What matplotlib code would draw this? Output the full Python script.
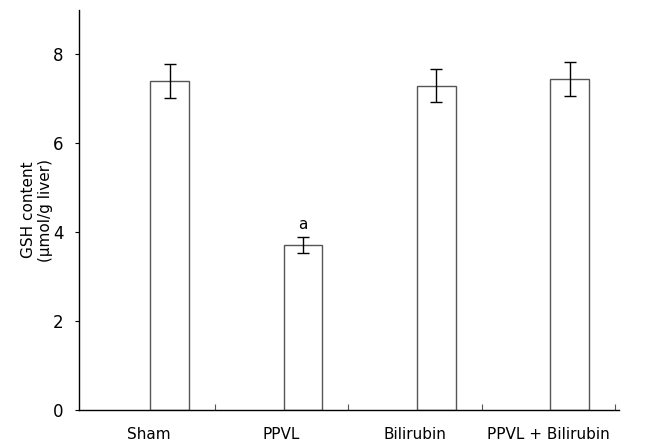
import matplotlib
matplotlib.use("Agg")
import matplotlib.pyplot as plt
from matplotlib.ticker import FixedLocator, NullFormatter

categories = ["Sham", "PPVL", "Bilirubin", "PPVL + Bilirubin"]
values = [7.41, 3.71, 7.30, 7.45]
errors = [0.38, 0.18, 0.38, 0.39]
annotations = ["", "a", "", ""]
yticks = [0, 2, 4, 6, 8]

plt.rcParams['font.family'] = ['DejaVu Sans']
fig = plt.figure(figsize=(6.46, 4.48), dpi=100)
ax = fig.add_axes([79/646, 38/448, 540/646, 400/448])

x = list(range(len(categories)))
ax.bar(x, values, width=0.29, color="white", edgecolor="#555555", linewidth=1.0, zorder=2)
ax.errorbar(x, values, yerr=errors, fmt="none", ecolor="black", elinewidth=1.0,
            capsize=4.5, capthick=1.0, zorder=3)
for xi, v, e, t in zip(x, values, errors, annotations):
    if t:
        ax.text(xi, v + e + 0.12, t, ha="center", va="bottom", fontsize=11)

ax.set_xlim(-0.68, 3.37)
ax.set_ylim(0, 9)
ax.set_yticks(yticks)
ax.tick_params(axis="y", direction="out", length=3, width=0.8, labelsize=12, pad=8)

# category labels (offset from bars as in reference)
ax.xaxis.set_major_locator(FixedLocator([i - 0.16 for i in x]))
ax.set_xticklabels(categories)
ax.tick_params(axis="x", which="major", length=0, labelsize=11, pad=12)
ax.xaxis.set_minor_locator(FixedLocator([i + 0.34 for i in x]))
ax.xaxis.set_minor_formatter(NullFormatter())
ax.tick_params(axis="x", which="minor", direction="in", length=4, width=0.8, color="#555555")

for s in ["top", "right"]:
    ax.spines[s].set_visible(False)
for s in ["left", "bottom"]:
    ax.spines[s].set_linewidth(1.0)

ax.set_ylabel("GSH content\n(µmol/g liver)", fontsize=11, labelpad=0)

fig.savefig("out.png", dpi=100)
